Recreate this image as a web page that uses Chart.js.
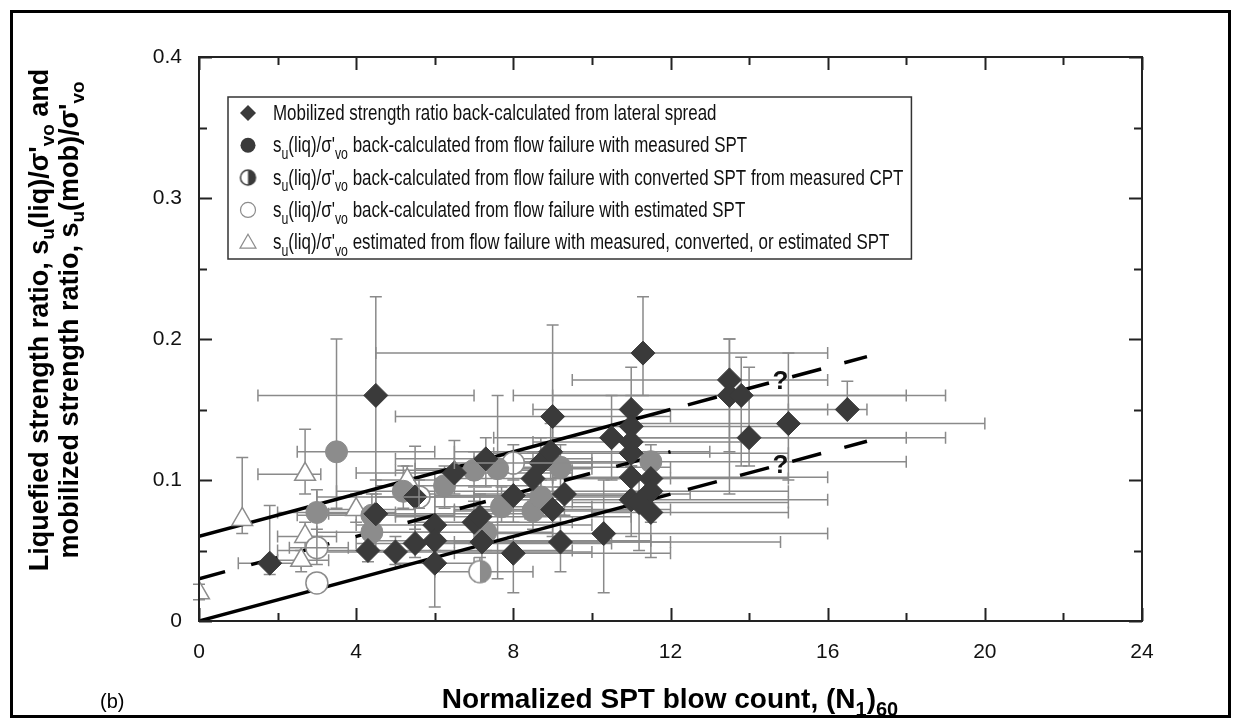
<!DOCTYPE html>
<html>
<head>
<meta charset="utf-8">
<script src="https://cdn.jsdelivr.net/npm/chart.js@4.4.1/dist/chart.umd.min.js"></script>
<style>
  html, body { margin: 0; padding: 0; background: #fff; }
  canvas { display: block; }
</style>
</head>
<body>
<canvas id="chart" width="1241" height="728"></canvas>
<script>
// Liquefied / mobilized strength ratio vs normalized SPT blow count (panel b)

const FONT = '"Liberation Sans", Arial, Helvetica, sans-serif';

const xTickLabels = ['0', '4', '8', '12', '16', '20', '24'];
const yTickLabels = ['0', '0.1', '0.2', '0.3', '0.4'];

// mobilized strength ratio back-calculated from lateral spread (diamonds)
const spreadX   = [1.8, 4.5, 4.5, 4.3, 5.0, 5.5, 5.5, 6.0, 6.0, 6.0, 6.5, 7.3, 7.0, 7.15, 7.2, 8.0, 8.0, 8.5, 8.7, 9.0, 8.95, 9.3, 9.0, 9.2, 10.3, 10.5, 11.0, 11.0, 11.0, 11.0, 11.0, 11.0, 11.2, 11.5, 11.5, 11.5, 11.3, 13.5, 13.5, 13.8, 14.0, 15.0, 16.5];
const spreadY   = [0.041, 0.160, 0.076, 0.050, 0.049, 0.055, 0.088, 0.068, 0.057, 0.041, 0.105, 0.115, 0.070, 0.074, 0.056, 0.089, 0.048, 0.101, 0.112, 0.145, 0.120, 0.090, 0.079, 0.056, 0.062, 0.130, 0.150, 0.138, 0.127, 0.119, 0.102, 0.086, 0.084, 0.101, 0.092, 0.077, 0.190, 0.171, 0.160, 0.160, 0.130, 0.140, 0.150];
const spreadXLo = [1.0, 1.5, 3.3, 2.0, 3.0, 4.0, 3.0, 4.0, 4.5, 5.0, 4.0, 5.0, 5.5, 5.0, 6.0, 6.0, 6.5, 6.0, 7.0, 5.0, 6.5, 7.0, 6.5, 6.5, 7.5, 7.5, 8.5, 9.0, 8.5, 7.5, 9.0, 8.0, 9.5, 9.0, 8.5, 10.0, 4.5, 9.5, 8.0, 9.0, 9.0, 11.0, 15.0];
const spreadXHi = [2.6, 7.0, 8.3, 9.5, 10.0, 10.5, 8.5, 10.0, 11.5, 7.0, 9.5, 10.0, 9.5, 11.0, 12.0, 11.0, 12.0, 12.0, 11.0, 12.0, 13.0, 12.5, 12.0, 14.8, 16.0, 18.0, 16.0, 15.0, 14.0, 15.0, 16.0, 16.0, 15.0, 15.0, 15.0, 15.0, 16.0, 16.0, 18.0, 19.0, 19.0, 20.0, 17.0];
const spreadYLo = [0.033, 0.10, 0.064, 0.042, 0.04, 0.045, 0.05, 0.05, 0.045, 0.01, 0.09, 0.095, 0.055, 0.06, 0.04, 0.07, 0.02, 0.085, 0.095, 0.09, 0.10, 0.075, 0.06, 0.035, 0.02, 0.10, 0.12, 0.11, 0.10, 0.10, 0.08, 0.06, 0.05, 0.08, 0.07, 0.045, 0.16, 0.09, 0.12, 0.11, 0.11, 0.10, 0.15];
const spreadYHi = [0.082, 0.23, 0.09, 0.06, 0.06, 0.065, 0.124, 0.09, 0.07, 0.07, 0.128, 0.13, 0.085, 0.09, 0.07, 0.11, 0.06, 0.12, 0.13, 0.21, 0.14, 0.105, 0.095, 0.075, 0.10, 0.16, 0.18, 0.16, 0.15, 0.14, 0.12, 0.11, 0.10, 0.12, 0.11, 0.10, 0.23, 0.20, 0.20, 0.187, 0.18, 0.19, 0.17];

// su(liq)/σ'vo from flow failure, measured SPT (filled circles)
const measX   = [3.5, 3.0, 4.4, 4.4, 5.2, 6.25, 7.0, 7.6, 9.2, 7.7, 8.5, 8.7, 11.5, 7.3];
const measY   = [0.120, 0.077, 0.075, 0.063, 0.092, 0.096, 0.107, 0.108, 0.109, 0.081, 0.078, 0.088, 0.113, 0.063];
const measXLo = [2.5, 2.0, 2.5, 3.0, 3.5, 4.5, 5.0, 5.5, 6.5, 6.0, 6.5, 7.0, 7.0, 5.5];
const measXHi = [6.0, 5.0, 6.5, 6.0, 8.0, 8.5, 9.5, 10.0, 12.0, 10.0, 11.0, 11.0, 18.0, 9.0];
const measYLo = [0.08, 0.06, 0.06, 0.05, 0.08, 0.08, 0.095, 0.03, 0.095, 0.07, 0.065, 0.075, 0.10, 0.05];
const measYHi = [0.20, 0.093, 0.09, 0.075, 0.11, 0.11, 0.12, 0.16, 0.125, 0.095, 0.09, 0.10, 0.125, 0.075];

// converted SPT from measured CPT (half-filled circles)
const convX   = [7.15];
const convY   = [0.035];
const convXLo = [6.0];
const convXHi = [8.5];
const convYLo = [0.028];
const convYHi = [0.045];

// estimated SPT (open circles)
const estX   = [3.0, 3.0, 8.0, 5.6];
const estY   = [0.027, 0.052, 0.112, 0.088];
const estXLo = [null, 2.3, 6.5, 4.5];
const estXHi = [null, 3.8, 10.0, 7.0];
const estYLo = [null, 0.04, 0.10, 0.08];
const estYHi = [null, 0.065, 0.125, 0.10];

// su(liq)/σ'vo estimated from flow failure (open triangles)
const triX   = [0.0, 1.1, 2.7, 2.7, 2.6, 4.0, 5.3];
const triY   = [0.020, 0.072, 0.104, 0.060, 0.043, 0.079, 0.100];
const triXLo = [null, null, 1.5, 2.0, 2.0, 3.0, 4.5];
const triXHi = [null, null, 3.1, 3.5, 3.3, 5.5, 6.5];
const triYLo = [0.015, 0.062, 0.09, 0.05, 0.035, 0.07, 0.09];
const triYHi = [0.026, 0.116, 0.136, 0.07, 0.05, 0.09, 0.11];

// trend lines
const upperX    = [0, 12];
const upperY    = [0.06, 0.15];
const upperExtX = [12, 17];
const upperExtY = [0.15, 0.1875];
const midX      = [0, 12];
const midY      = [0.03, 0.12];
const lowerX    = [0, 12];
const lowerY    = [0.0, 0.09];
const lowerExtX = [12, 17];
const lowerExtY = [0.09, 0.1275];

// "?" marks on the extrapolated parts
const queryX = [14.8, 14.8];
const queryY = [0.171, 0.111];

const DARK = '#3a3a3a';
const MID  = '#8c8c8c';
const BAR  = '#8a8a8a';

const pts = (xs, ys) => xs.map((x, i) => ({ x, y: ys[i] }));

/** half-open circle marker: left white, right filled */
function halfCircle(r, fill, stroke) {
  const c = document.createElement('canvas');
  const s = 2 * r + 4;
  c.width = c.height = s;
  const g = c.getContext('2d');
  g.fillStyle = '#fff';
  g.beginPath(); g.arc(s / 2, s / 2, r, 0, Math.PI * 2); g.fill();
  g.fillStyle = fill;
  g.beginPath(); g.arc(s / 2, s / 2, r, -Math.PI / 2, Math.PI / 2); g.closePath(); g.fill();
  g.strokeStyle = stroke; g.lineWidth = 1.5;
  g.beginPath(); g.arc(s / 2, s / 2, r, 0, Math.PI * 2); g.stroke();
  return c;
}

function trend(xs, ys, dash, offset) {
  return {
    type: 'scatter', showLine: true, data: pts(xs, ys),
    borderColor: '#000', borderWidth: 3.5, pointRadius: 0,
    borderDash: dash || [], borderDashOffset: offset || 0,
    borderCapStyle: 'butt', order: 9,
  };
}

/** draws error bars with end caps through chart scales */
const errorBars = {
  id: 'errorBars',
  draw(chart, late) {
    const { ctx, scales: { x, y } } = chart;
    const cap = 6;
    ctx.save();
    ctx.strokeStyle = BAR;
    ctx.lineWidth = 1.5;
    chart.data.datasets.forEach(ds => {
      const e = ds.errors;
      if (!e || !!ds.errorsOnTop !== late) return;
      ds.data.forEach((p, i) => {
        const px = x.getPixelForValue(p.x);
        const py = y.getPixelForValue(p.y);
        ctx.beginPath();
        if (e.xLo[i] != null) {
          const a = x.getPixelForValue(e.xLo[i]);
          const b = x.getPixelForValue(e.xHi[i]);
          ctx.moveTo(a, py); ctx.lineTo(b, py);
          ctx.moveTo(a, py - cap); ctx.lineTo(a, py + cap);
          ctx.moveTo(b, py - cap); ctx.lineTo(b, py + cap);
        }
        if (e.yLo[i] != null) {
          const a = y.getPixelForValue(e.yLo[i]);
          const b = y.getPixelForValue(e.yHi[i]);
          ctx.moveTo(px, a); ctx.lineTo(px, b);
          ctx.moveTo(px - cap, a); ctx.lineTo(px + cap, a);
          ctx.moveTo(px - cap, b); ctx.lineTo(px + cap, b);
        }
        ctx.stroke();
      });
    });
    ctx.restore();
  },
  beforeDatasetsDraw(chart) { this.draw(chart, false); },
  afterDatasetsDraw(chart) { this.draw(chart, true); },
};

/** plot frame with inward ticks on all four sides */
const axisFrame = {
  id: 'axisFrame',
  afterDatasetsDraw(chart) {
    const { ctx, chartArea: a, scales: { x, y } } = chart;
    ctx.save();
    ctx.strokeStyle = '#222';
    ctx.lineWidth = 2;
    ctx.strokeRect(a.left, a.top, a.right - a.left, a.bottom - a.top);
    ctx.beginPath();
    x.ticks.forEach(t => {
      const px = Math.round(x.getPixelForValue(t.value)) + 0.5;
      const len = t.label ? 13 : 8;
      ctx.moveTo(px, a.bottom); ctx.lineTo(px, a.bottom - len);
      ctx.moveTo(px, a.top);    ctx.lineTo(px, a.top + len);
    });
    y.ticks.forEach(t => {
      const py = Math.round(y.getPixelForValue(t.value)) + 0.5;
      const len = t.label ? 13 : 8;
      ctx.moveTo(a.left, py);  ctx.lineTo(a.left + len, py);
      ctx.moveTo(a.right, py); ctx.lineTo(a.right - len, py);
    });
    ctx.stroke();
    ctx.restore();
  },
};

// text runs: [string, isSubscript]; sx squeezes the text horizontally
function richWidth(ctx, runs, size, weight, sx = 1) {
  let w = 0;
  runs.forEach(([t, sub]) => {
    ctx.font = `${weight} ${sub ? Math.round(size * 0.72) : size}px ${FONT}`;
    w += ctx.measureText(t).width;
  });
  return w * sx;
}
function drawRich(ctx, runs, x, y, size, weight, sx = 1, drop = 0.3) {
  ctx.save();
  ctx.translate(x, y);
  ctx.scale(sx, 1);
  let cx = 0;
  runs.forEach(([t, sub]) => {
    ctx.font = `${weight} ${sub ? Math.round(size * 0.72) : size}px ${FONT}`;
    ctx.fillText(t, cx, sub ? size * drop : 0);
    cx += ctx.measureText(t).width;
  });
  ctx.restore();
}

const SU_LIQ = [['s'], ['u', 1], ['(liq)/σ\''], ['vo', 1]];

const legendRows = [
  { mark: 'diamond', runs: [['Mobilized strength ratio back-calculated from lateral spread']] },
  { mark: 'dot',     runs: [...SU_LIQ, [' back-calculated from flow failure with measured SPT']] },
  { mark: 'half',    runs: [...SU_LIQ, [' back-calculated from flow failure with converted SPT from measured CPT']] },
  { mark: 'open',    runs: [...SU_LIQ, [' back-calculated from flow failure with estimated SPT']] },
  { mark: 'tri',     runs: [...SU_LIQ, [' estimated from flow failure with measured, converted, or estimated SPT']] },
];

const LEG_SIZE = 22;
const LEG_SX = 0.77;

const annotations = {
  id: 'annotations',
  afterDraw(chart) {
    const { ctx, scales: { x, y } } = chart;
    ctx.save();
    ctx.fillStyle = '#111';
    ctx.textBaseline = 'alphabetic';

    // question marks on the dashed extensions
    ctx.font = `bold 26px ${FONT}`;
    ctx.textAlign = 'center';
    queryX.forEach((qx, i) => {
      ctx.fillText('?', x.getPixelForValue(qx), y.getPixelForValue(queryY[i]) + 9);
    });
    ctx.textAlign = 'left';

    // legend box
    const L = 228, T = 97, H = 162, textX = 273;
    const maxW = Math.max(...legendRows.map(r => richWidth(ctx, r.runs, LEG_SIZE, 'normal', LEG_SX)));
    const W = textX + maxW + 8 - L;
    ctx.fillStyle = '#fff';
    ctx.fillRect(L, T, W, H);
    ctx.strokeStyle = '#333';
    ctx.lineWidth = 1.5;
    ctx.strokeRect(L, T, W, H);
    legendRows.forEach((row, i) => {
      const cy = T + 16 + i * 32.3;
      const mx = 248;
      ctx.beginPath();
      if (row.mark === 'diamond') {
        ctx.fillStyle = DARK;
        ctx.moveTo(mx, cy - 8); ctx.lineTo(mx + 8, cy); ctx.lineTo(mx, cy + 8); ctx.lineTo(mx - 8, cy);
        ctx.closePath(); ctx.fill();
      } else if (row.mark === 'dot') {
        ctx.fillStyle = DARK;
        ctx.arc(mx, cy, 7.5, 0, Math.PI * 2); ctx.fill();
      } else if (row.mark === 'half') {
        ctx.drawImage(halfCircle(7.5, DARK, DARK), mx - 9.5, cy - 9.5);
      } else if (row.mark === 'open') {
        ctx.strokeStyle = MID; ctx.lineWidth = 1.2;
        ctx.arc(mx, cy, 7.5, 0, Math.PI * 2); ctx.stroke();
      } else {
        ctx.strokeStyle = MID; ctx.lineWidth = 1.2;
        ctx.moveTo(mx, cy - 8); ctx.lineTo(mx + 8, cy + 6); ctx.lineTo(mx - 8, cy + 6);
        ctx.closePath(); ctx.stroke();
      }
      ctx.fillStyle = '#111';
      drawRich(ctx, row.runs, textX, cy + 7, LEG_SIZE, 'normal', LEG_SX);
    });

    // x-axis title
    const xt = [['Normalized SPT blow count, (N'], ['1', 1], [')'], ['60', 1]];
    ctx.fillStyle = '#000';
    const xw = richWidth(ctx, xt, 28, 'bold');
    drawRich(ctx, xt, 670 - xw / 2, 708, 28, 'bold');

    // panel tag
    ctx.font = `normal 20px ${FONT}`;
    ctx.fillText('(b)', 100, 708);

    // y-axis title, two rotated lines
    const yt1 = [['Liquefied strength ratio, s'], ['u', 1], ['(liq)/σ\''], ['vo', 1], [' and']];
    const yt2 = [['mobilized strength ratio, s'], ['u', 1], ['(mob)/σ\''], ['vo', 1]];
    [[yt1, 38], [yt2, 68]].forEach(([runs, cx]) => {
      ctx.save();
      ctx.translate(cx, 320);
      ctx.rotate(-Math.PI / 2);
      const w = richWidth(ctx, runs, 27, 'bold');
      drawRich(ctx, runs, -w / 2, 9.5, 27, 'bold', 1, 0.25);
      ctx.restore();
    });

    // outer border
    ctx.strokeStyle = '#000';
    ctx.lineWidth = 3;
    ctx.strokeRect(11.5, 11.5, 1218, 705);
    ctx.restore();
  },
};

Chart.defaults.font.family = FONT;

new Chart(document.getElementById('chart'), {
  type: 'scatter',
  data: {
    datasets: [
      {
        label: 'lateral spread', data: pts(spreadX, spreadY),
        errors: { xLo: spreadXLo, xHi: spreadXHi, yLo: spreadYLo, yHi: spreadYHi },
        pointStyle: 'rectRot', pointRadius: 12,
        backgroundColor: DARK, borderColor: DARK, borderWidth: 1, order: 0,
      },
      {
        label: 'measured SPT', data: pts(measX, measY),
        errors: { xLo: measXLo, xHi: measXHi, yLo: measYLo, yHi: measYHi },
        pointStyle: 'circle', pointRadius: 11,
        backgroundColor: MID, borderColor: MID, borderWidth: 1, order: 1,
      },
      {
        label: 'converted SPT', data: pts(convX, convY),
        errors: { xLo: convXLo, xHi: convXHi, yLo: convYLo, yHi: convYHi },
        pointStyle: halfCircle(11, MID, MID), pointRadius: 11, order: 2,
      },
      {
        label: 'estimated SPT', data: pts(estX, estY),
        errors: { xLo: estXLo, xHi: estXHi, yLo: estYLo, yHi: estYHi }, errorsOnTop: true,
        pointStyle: 'circle', pointRadius: 11,
        backgroundColor: '#fff', borderColor: MID, borderWidth: 1.5, order: 3,
      },
      {
        label: 'estimated', data: pts(triX, triY),
        errors: { xLo: triXLo, xHi: triXHi, yLo: triYLo, yHi: triYHi },
        pointStyle: 'triangle', pointRadius: 12,
        backgroundColor: '#fff', borderColor: MID, borderWidth: 1.5, order: 4,
      },
      trend(upperX, upperY),
      trend(upperExtX, upperExtY, [30, 24], 36),
      trend(midX, midY, [27, 27], 0),
      trend(lowerX, lowerY),
      trend(lowerExtX, lowerExtY, [30, 24], 36),
    ],
  },
  options: {
    responsive: false,
    animation: false,
    devicePixelRatio: 1,
    layout: { padding: { left: 0, top: 57, right: 99, bottom: 0 } },
    plugins: {
      legend: { display: false },
      tooltip: { enabled: false },
    },
    scales: {
      x: {
        type: 'linear', min: 0, max: 24,
        grid: { display: false, drawTicks: false },
        border: { display: false },
        ticks: {
          stepSize: 2, autoSkip: false, maxRotation: 0, padding: 19,
          color: '#111', font: { size: 21 },
          callback: v => (v % 4 === 0 ? xTickLabels[v / 4] : ''),
        },
        afterFit: s => { s.height = 107; },
      },
      y: {
        type: 'linear', min: 0, max: 0.4,
        grid: { display: false, drawTicks: false },
        border: { display: false },
        ticks: {
          stepSize: 0.05, autoSkip: false, padding: 17,
          color: '#111', font: { size: 21 },
          callback: v => {
            const k = Math.round(v * 100);
            return k % 10 === 0 ? yTickLabels[k / 10] : '';
          },
        },
        afterFit: s => { s.width = 199; },
      },
    },
  },
  plugins: [errorBars, axisFrame, annotations],
});
</script>
</body>
</html>
